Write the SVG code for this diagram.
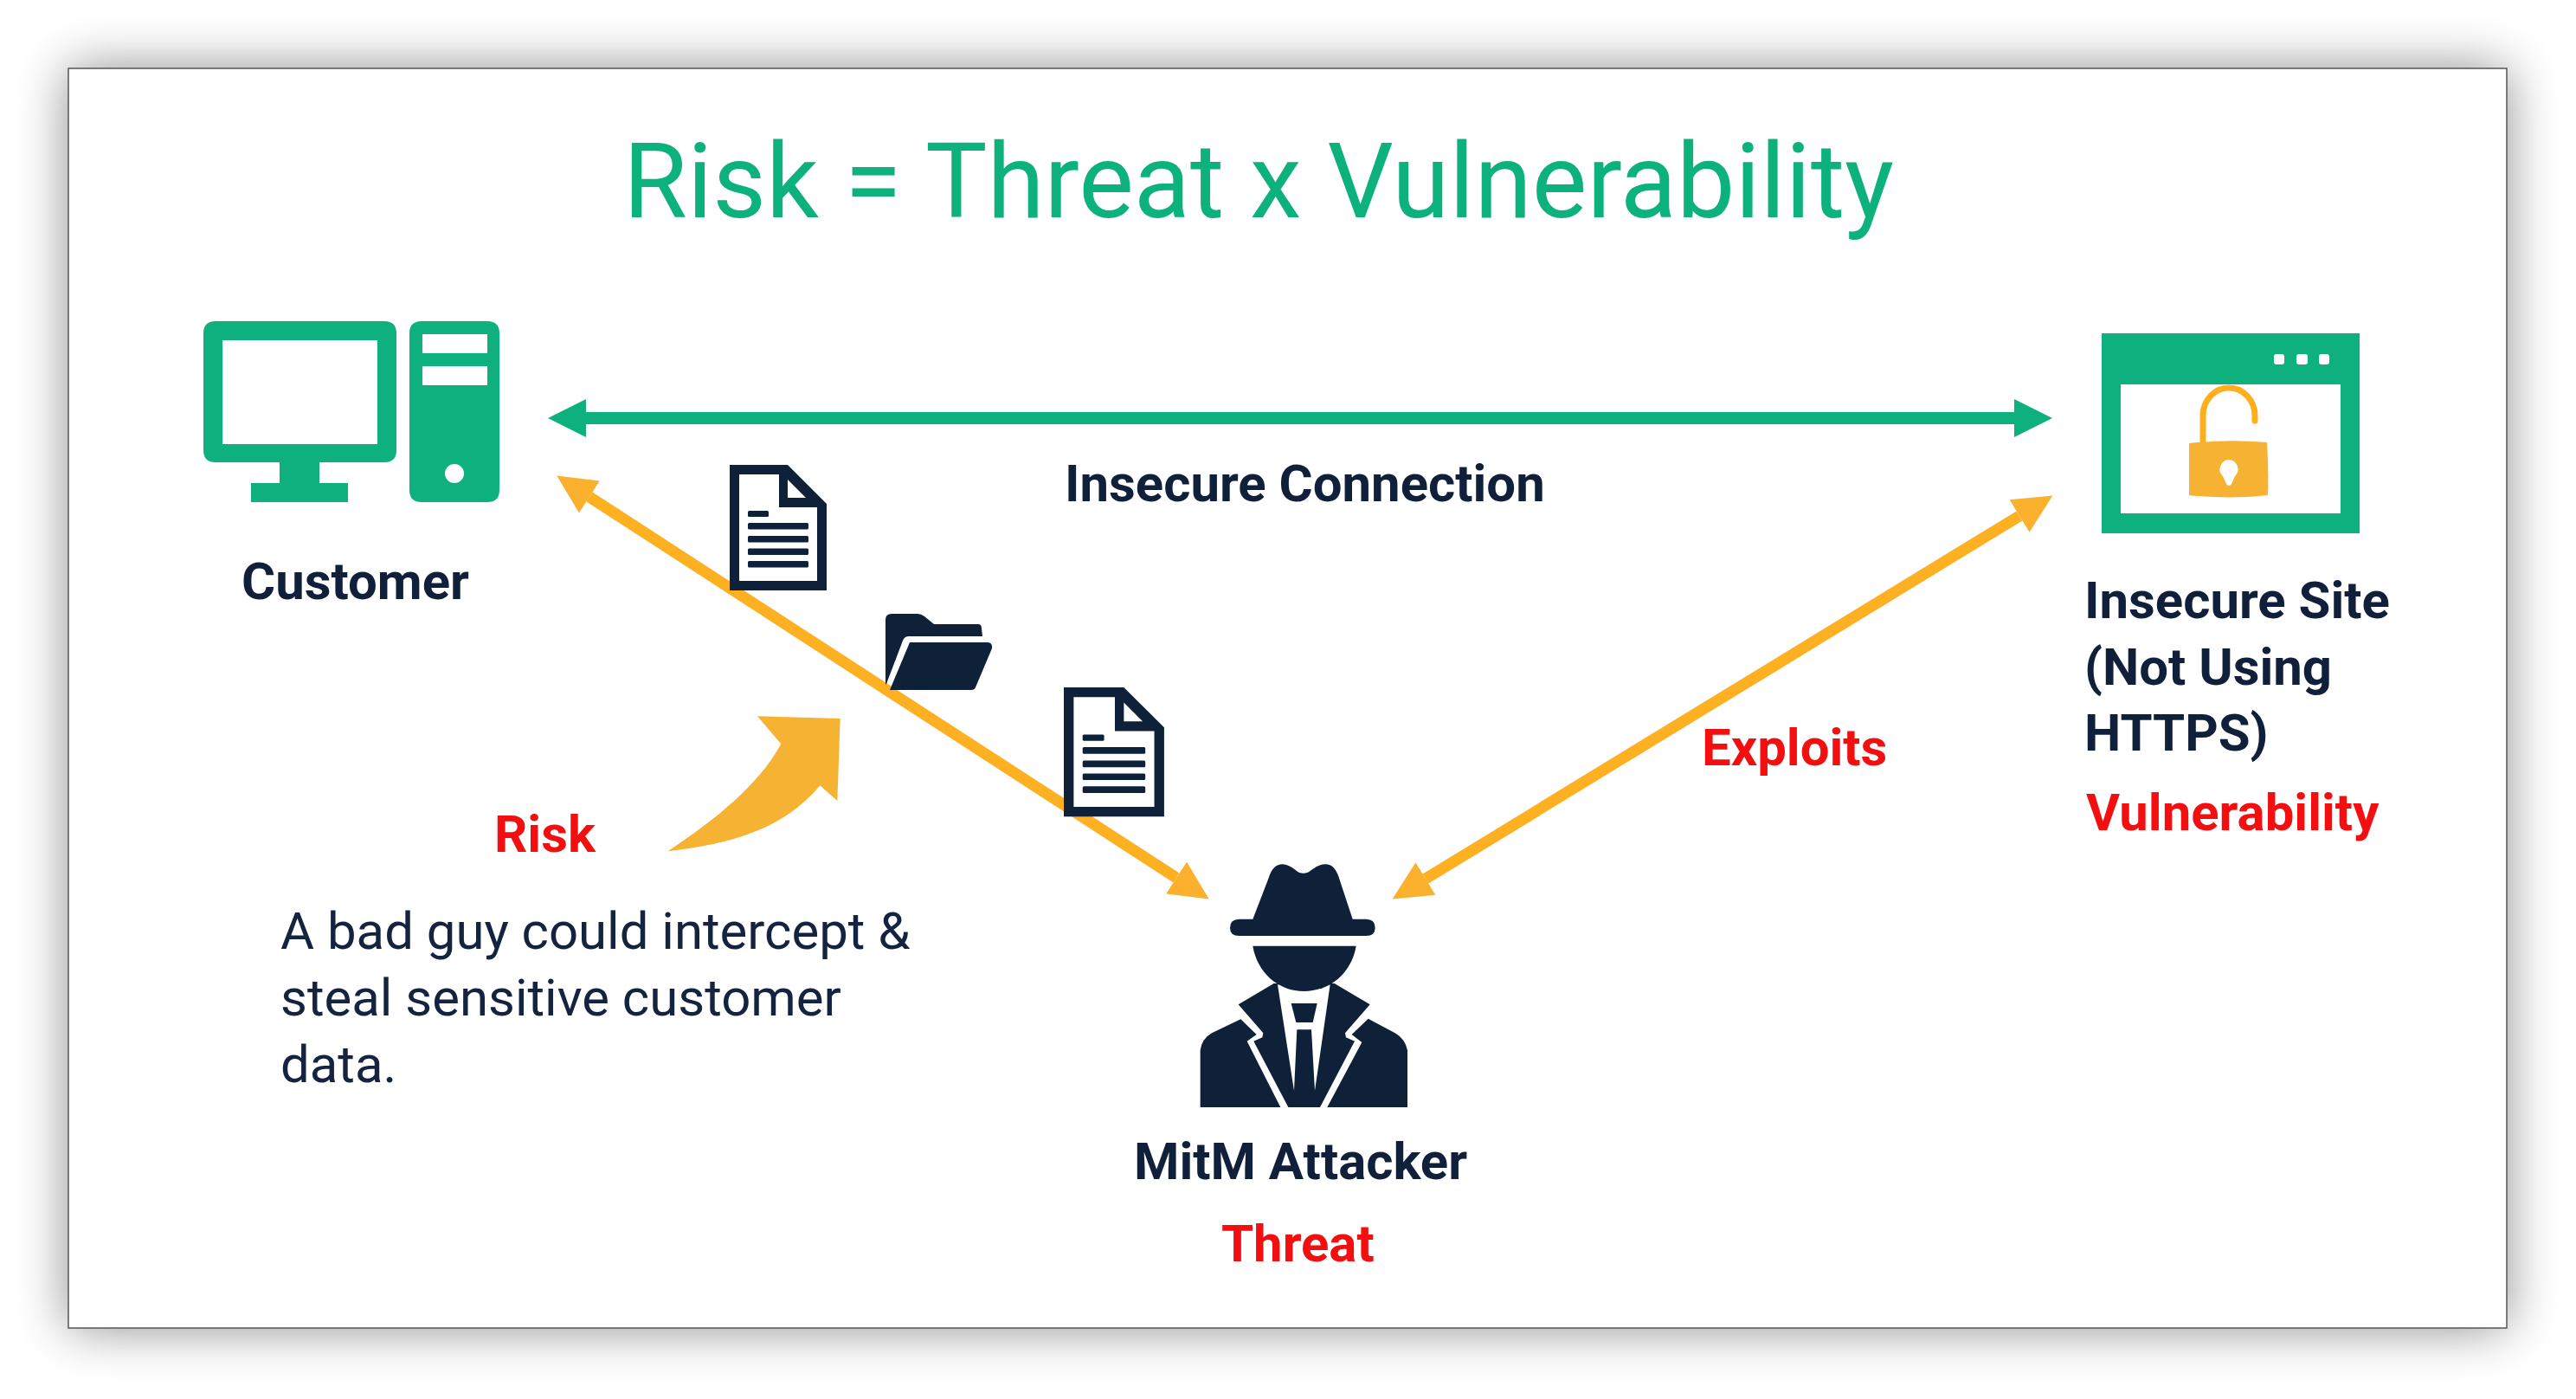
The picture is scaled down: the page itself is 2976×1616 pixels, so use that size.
<svg xmlns="http://www.w3.org/2000/svg" width="2976" height="1616" viewBox="0 0 2976 1616">
<style>
text{font-family:Roboto,"Liberation Sans",sans-serif}
.title{font-size:120px;fill:#0DB17C}
.b{font-size:59.9px;font-weight:700;fill:#10203A}
.r{font-size:59.9px;font-weight:700;fill:#F30F0F}
.p{font-size:59.9px;font-weight:400;fill:#14233F}
.green{fill:#0EB17D}
.navy{fill:#0E2139}
.w{fill:#fff}
.conn{fill:none}
</style>
<defs>
<filter id="sh" x="-10%" y="-15%" width="120%" height="130%"><feGaussianBlur stdDeviation="30"/></filter>
<marker id="gh" markerUnits="userSpaceOnUse" markerWidth="46" markerHeight="46" refX="0" refY="23" orient="auto-start-reverse"><polygon points="0,1 44,23 0,45" fill="#0EB17D"/></marker>
<marker id="oh" markerUnits="userSpaceOnUse" markerWidth="46" markerHeight="46" refX="0" refY="23" orient="auto-start-reverse"><polygon points="0,1 45,23 0,45" fill="#FBB12E"/></marker>
<g id="doc">
<path class="navy" d="M0,0H67L112,45V145H0Z"/>
<path class="w" d="M11,11H57V49H101V134H11Z"/>
<path class="w" d="M67,17L88,38H67Z"/>
<g class="navy"><rect x="21" y="53" width="24" height="7" rx="1.5"/><rect x="21" y="67" width="70" height="7.5" rx="1.5"/><rect x="21" y="82" width="70" height="7.5" rx="1.5"/><rect x="21" y="96.5" width="70" height="7.5" rx="1.5"/><rect x="21" y="111" width="70" height="7.5" rx="1.5"/></g>
</g>
</defs>
<rect width="2976" height="1616" fill="#fff"/>
<rect x="79" y="79" width="2817" height="1455" fill="#000" opacity=".45" filter="url(#sh)"/>
<rect id="card" x="79" y="79" width="2817" height="1455" fill="#fff" stroke="#555" stroke-width="1.5"/>
<text id="title" class="title" x="720" y="251">Risk = Threat x Vulnerability</text>

<g id="connectors" class="conn">
<path id="insecure-connection" d="M677,483H2327" stroke="#0EB17D" stroke-width="14" marker-start="url(#gh)" marker-end="url(#gh)"/>
<path id="customer-attacker" d="M681,574L1359,1014" stroke="#FDB022" stroke-width="13" marker-start="url(#oh)" marker-end="url(#oh)"/>
<path id="site-attacker" d="M1647,1015L2333,596" stroke="#FDB022" stroke-width="13" marker-start="url(#oh)" marker-end="url(#oh)"/>
</g>

<g id="customer">
<g class="green">
<path fill-rule="evenodd" d="M249,371H444Q458,371 458,385V520Q458,534 444,534H369V558H402V580H290V558H323V534H249Q235,534 235,520V385Q235,371 249,371ZM257,393V513H436V393Z"/>
<path fill-rule="evenodd" d="M487,371H563Q577,371 577,385V566Q577,580 563,580H487Q473,580 473,566V385Q473,371 487,371ZM488,386V408H563V386ZM488,423V445H563V423ZM525,536A11,11 0 1 0 525.01,558A11,11 0 1 0 525,536Z"/>
</g>
<text class="b" x="279" y="692">Customer</text>
</g>

<g id="insecure-site">
<path class="green" fill-rule="evenodd" d="M2428,385H2726V616H2428ZM2450,444V593H2704V444Z"/>
<g class="w"><rect x="2627" y="409" width="12" height="12" rx="3"/><rect x="2653" y="409" width="13" height="12" rx="3"/><rect x="2679" y="409" width="12" height="12" rx="3"/></g>
<path d="M2545,510V480A30,32 0 0 1 2605,480V486" fill="none" stroke="#FDB01B" stroke-width="7" stroke-linecap="round"/>
<path d="M2529,512Q2575,507 2619,511Q2621,542 2620,572Q2575,577 2529,572Z" fill="#F6B233"/>
<path class="w" d="M2575,531A11,11 0 0 1 2582,550L2578,559Q2575,563 2572,559L2568,550A11,11 0 0 1 2575,531Z"/>
<text class="b" x="2408" y="714">Insecure Site</text>
<text class="b" x="2408" y="791">(Not Using</text>
<text class="b" x="2408" y="867">HTTPS)</text>
<text class="r" x="2410" y="959">Vulnerability</text>
</g>

<g id="attacker">
<g transform="translate(1340,980) scale(.33333)">
<path class="navy" d="M322,245L378,100Q392,55 425,55Q445,55 470,75Q497,98 525,75Q550,55 575,55Q605,55 620,100L668,245H715Q746,245 746,275Q746,303 715,303H275Q243,303 243,275Q243,245 275,245Z"/>
<path class="navy" d="M395,468L272,541L358,640L355,655L325,668L445,897H555L675,668L645,655L642,640L728,541L605,468Z"/>
<path class="w" d="M408,472H590L537,840L525,628H475L465,840Z"/>
<path class="navy" d="M455,537H545L530,603H472Z"/>
<path class="navy" d="M322,338H680C665,430 590,495 500,495C410,495 337,430 322,338Z"/>
<path class="navy" d="M280,592L335,645L302,668L418,897H140V700Q145,660 180,640Z"/>
<path class="navy" d="M722,590L665,645L700,672L580,897H858V700Q850,660 815,640Z"/>
</g>
<text class="b" x="1310" y="1362">MitM Attacker</text>
<text class="r" x="1411" y="1457">Threat</text>
</g>

<g id="data-files">
<use href="#doc" transform="translate(843,537)"/>
<use href="#doc" transform="translate(1229,794) scale(1.035,1.03)"/>
<path class="navy" d="M1023,716Q1023,709 1030,709H1060Q1064,709 1068,712L1079,721H1130Q1134,721 1134,726L1135,735H1050Q1045,735 1043,740L1024,790Q1023,792 1023,788Z"/>
<path class="navy" d="M1051,742H1140Q1147,742 1146,749L1127,794Q1126,797 1122,797H1028Z"/>
</g>

<g id="risk">
<path transform="translate(740,800) scale(.33333)" d="M95,550C260,440 410,320 487,178L405,82L692,90L682,375L622,322C500,470 320,525 95,550Z" fill="#F5B233"/>
<text class="r" x="571" y="984">Risk</text>
<text class="p" x="324" y="1096">A bad guy could intercept &amp;</text>
<text class="p" x="324" y="1173">steal sensitive customer</text>
<text class="p" x="324" y="1250">data.</text>
</g>

<text id="connection-label" class="b" x="1230" y="579">Insecure Connection</text>
<text id="exploits-label" class="r" x="1966" y="884">Exploits</text>
</svg>
